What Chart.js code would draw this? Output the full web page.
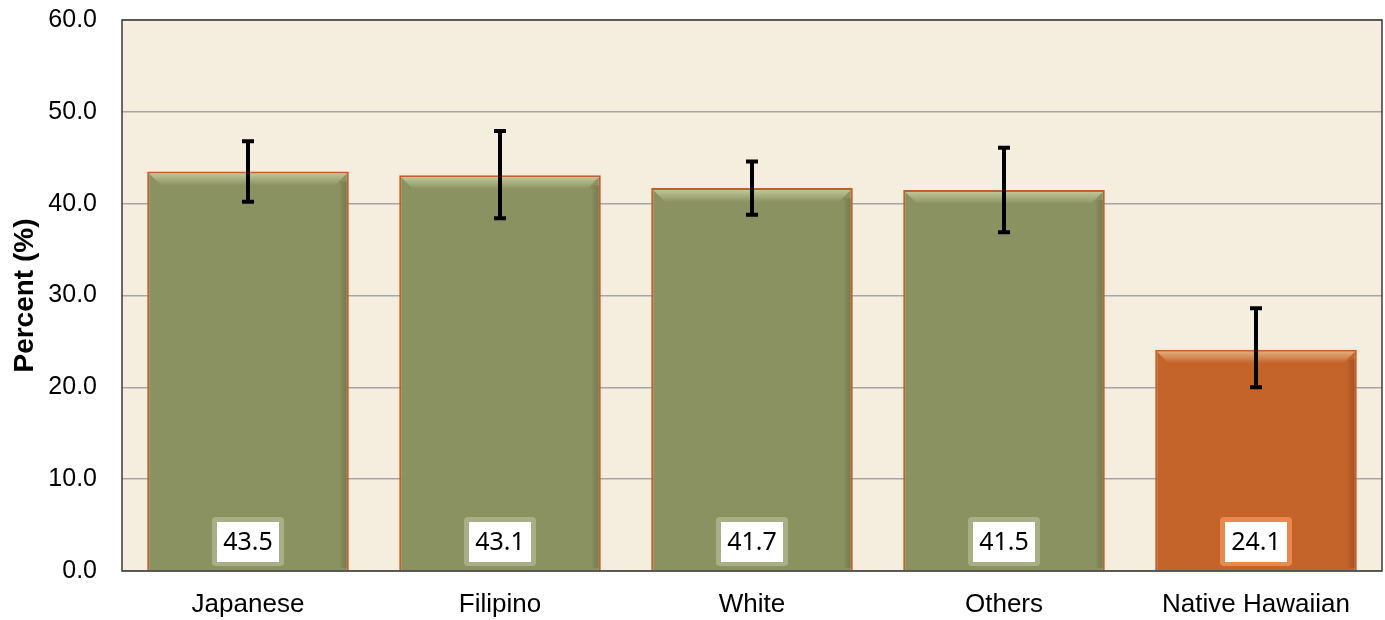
<!DOCTYPE html>
<html><head><meta charset="utf-8">
<script src="https://cdn.jsdelivr.net/npm/chart.js@4"></script>
<style>html,body{margin:0;padding:0;background:#fff}#wrap{width:1385px;height:620px;position:relative}</style>
</head><body><div id="wrap"><canvas id="c"></canvas></div>
<script>
const categories = ["Japanese","Filipino","White","Others","Native Hawaiian"];
const values = [43.5, 43.1, 41.7, 41.5, 24.1];
const errLow = [40.2, 38.4, 38.8, 36.9, 20.0];
const errHigh = [46.8, 47.9, 44.6, 46.1, 28.6];
const yTicks = [0,10,20,30,40,50,60];

const fills = ["#8B9262","#8B9262","#8B9262","#8B9262","#C4632A"];
const labelBorders = ["#A9AE86","#A9AE86","#A9AE86","#A9AE86","#E8894F"];

const bgPlugin = {
  id:'bg',
  beforeDraw(chart){
    const {ctx, chartArea:a} = chart;
    ctx.save(); ctx.fillStyle="#F5EEDF"; ctx.fillRect(a.left,a.top,a.right-a.left,a.bottom-a.top); ctx.restore();
  },
  afterDraw(chart){
    const {ctx, chartArea:a} = chart;
    ctx.save(); ctx.strokeStyle="#3a3a3a"; ctx.lineWidth=1.5;
    ctx.strokeRect(a.left,a.top,a.right-a.left,a.bottom-a.top); ctx.restore();
  }
};

const bevelPlugin = {
  id:'bevel',
  afterDatasetsDraw(chart){
    const {ctx} = chart; const meta = chart.getDatasetMeta(0);
    ctx.save();
    meta.data.forEach((bar,i)=>{
      const l=bar.x-bar.width/2, r=bar.x+bar.width/2, t=bar.y, b=bar.base;
      const g = ctx.createLinearGradient(0,t,0,t+14);
      g.addColorStop(0,'rgba(255,255,210,0.55)'); g.addColorStop(1,'rgba(255,255,210,0)');
      ctx.fillStyle=g;
      ctx.beginPath(); ctx.moveTo(l+2,t+2); ctx.lineTo(r-2,t+2); ctx.lineTo(r-14,t+14); ctx.lineTo(l+14,t+14); ctx.closePath(); ctx.fill();
      const g2 = ctx.createLinearGradient(r-10,0,r,0);
      g2.addColorStop(0,'rgba(0,0,0,0)'); g2.addColorStop(1,'rgba(60,30,0,0.25)');
      ctx.fillStyle=g2; ctx.fillRect(r-10,t+10,8,b-t-12);
    });
    ctx.restore();
  }
};

const errPlugin = {
  id:'err',
  afterDatasetsDraw(chart){
    const {ctx} = chart; const ys = chart.scales.y; const meta = chart.getDatasetMeta(0);
    ctx.save(); ctx.strokeStyle="#000"; ctx.lineWidth=4;
    meta.data.forEach((bar,i)=>{
      const x=bar.x, y1=ys.getPixelForValue(errHigh[i]), y2=ys.getPixelForValue(errLow[i]);
      ctx.beginPath(); ctx.moveTo(x,y1); ctx.lineTo(x,y2);
      ctx.moveTo(x-6,y1); ctx.lineTo(x+6,y1); ctx.moveTo(x-6,y2); ctx.lineTo(x+6,y2); ctx.stroke();
    });
    ctx.font = "25px 'Noto Sans', 'Open Sans', sans-serif"; ctx.textAlign="center"; ctx.textBaseline="middle";
    meta.data.forEach((bar,i)=>{
      const cx=bar.x, cy=ys.getPixelForValue(0)-29;
      ctx.fillStyle=labelBorders[i];
      ctx.beginPath(); ctx.roundRect(cx-36,cy-25,72,49,4); ctx.fill();
      ctx.fillStyle="#fff"; ctx.fillRect(cx-31,cy-20,62,40);
      ctx.fillStyle="#000"; ctx.fillText(values[i].toFixed(1), cx, cy+1);
    });
    ctx.restore();
  }
};

new Chart(document.getElementById('c'), {
  type:'bar',
  data:{ labels:categories, datasets:[{ data:values, backgroundColor:fills, borderColor:"#C0612A", borderWidth:2, barPercentage:0.8, categoryPercentage:1.0 }]},
  options:{
    responsive:true, maintainAspectRatio:false, animation:false,
    layout:{padding:{top:20,right:3,left:0,bottom:0}},
    plugins:{legend:{display:false}, tooltip:{enabled:false}},
    scales:{
      x:{ grid:{display:false}, border:{display:false},
          ticks:{color:"#000", font:{family:"'Liberation Sans', Arial, sans-serif", size:26}, padding:10, maxRotation:0, minRotation:0, autoSkip:false},
          afterFit(s){ s.height=49; s.paddingTop=0; s.paddingBottom=0; } },
      y:{ min:0, max:60, afterBuildTicks(s){ s.ticks = yTicks.map(v=>({value:v})); },
          grid:{color:"#A6A6A6", lineWidth:1.5, drawTicks:false}, border:{display:false},
          ticks:{color:"#000", padding:25, font:{family:"'Liberation Sans', Arial, sans-serif", size:25}, callback:v=>Number(v).toFixed(1)},
          title:{display:true, text:"Percent (%)", color:"#000", font:{family:"'Liberation Sans', Arial, sans-serif", size:28, weight:'bold'}, padding:{top:8,bottom:0}},
          afterFit(s){ s.width=122; s.paddingTop=0; s.paddingBottom=0; } }
    }
  },
  plugins:[bgPlugin, bevelPlugin, errPlugin]
});
</script></body></html>
